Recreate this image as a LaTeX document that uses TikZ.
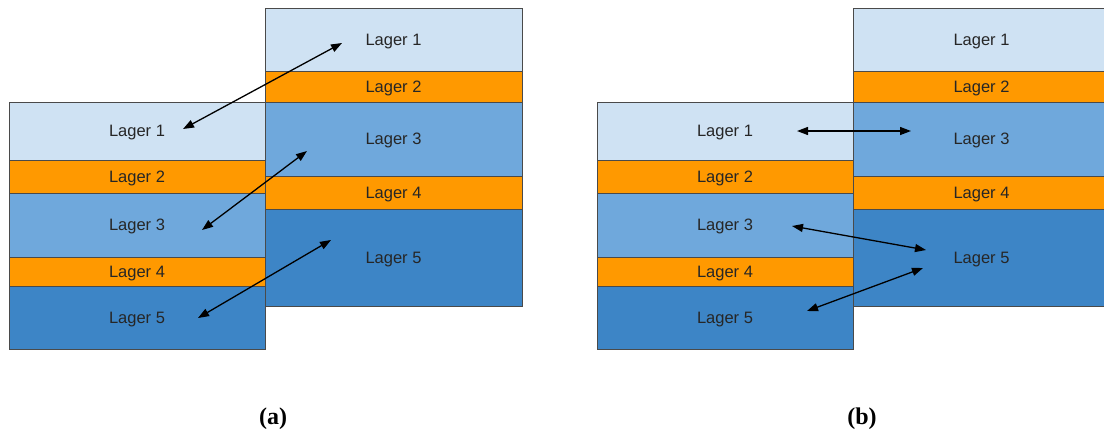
\documentclass[tikz,border=0pt]{standalone}
\usepackage{fontspec}
\setmainfont{Liberation Sans}
\newfontfamily\capfont{Liberation Serif}
\usetikzlibrary{arrows.meta}
\definecolor{cA}{HTML}{CFE2F3}
\definecolor{cB}{HTML}{FF9900}
\definecolor{cC}{HTML}{6FA8DC}
\definecolor{cD}{HTML}{3D85C6}
\definecolor{edge}{HTML}{4A4A4A}
\tikzset{
  layer/.style={draw=edge, line width=0.8pt, inner sep=0pt, outer sep=0pt,
    text depth=0pt, font=\fontsize{16.5}{18}\selectfont, text=black!85},
  arr/.style={{Triangle[length=11pt,width=8pt]}-{Triangle[length=11pt,width=8pt]}, line width=1.3pt, black},
  captext/.style={font=\capfont\bfseries\fontsize{24}{26}\selectfont}
}
\begin{document}
\begin{tikzpicture}[x=1pt,y=-1pt]
\useasboundingbox (0,0) rectangle (1104,432);
% ---------- (a) left stack
\node[layer, fill=cA, minimum width=256pt, minimum height=58pt] (aL1) at (137,131) {Lager 1};
\node[layer, fill=cB, minimum width=256pt, minimum height=33pt] (aL2) at (137,176.5) {Lager 2};
\node[layer, fill=cC, minimum width=256pt, minimum height=64pt] (aL3) at (137,225) {Lager 3};
\node[layer, fill=cB, minimum width=256pt, minimum height=29pt] (aL4) at (137,271.5) {Lager 4};
\node[layer, fill=cD, minimum width=256pt, minimum height=63pt] (aL5) at (137,317.5) {Lager 5};
% ---------- (a) right stack
\node[layer, fill=cA, minimum width=257pt, minimum height=63pt] (aR1) at (393.5,39.5) {Lager 1};
\node[layer, fill=cB, minimum width=257pt, minimum height=31pt] (aR2) at (393.5,86.5) {Lager 2};
\node[layer, fill=cC, minimum width=257pt, minimum height=74pt] (aR3) at (393.5,139) {Lager 3};
\node[layer, fill=cB, minimum width=257pt, minimum height=33pt] (aR4) at (393.5,192.5) {Lager 4};
\node[layer, fill=cD, minimum width=257pt, minimum height=97pt] (aR5) at (393.5,257.5) {Lager 5};
% ---------- (b) left stack
\node[layer, fill=cA, minimum width=256pt, minimum height=58pt] (bL1) at (725,131) {Lager 1};
\node[layer, fill=cB, minimum width=256pt, minimum height=33pt] (bL2) at (725,176.5) {Lager 2};
\node[layer, fill=cC, minimum width=256pt, minimum height=64pt] (bL3) at (725,225) {Lager 3};
\node[layer, fill=cB, minimum width=256pt, minimum height=29pt] (bL4) at (725,271.5) {Lager 4};
\node[layer, fill=cD, minimum width=256pt, minimum height=63pt] (bL5) at (725,317.5) {Lager 5};
% ---------- (b) right stack
\node[layer, fill=cA, minimum width=257pt, minimum height=63pt] (bR1) at (981.5,39.5) {Lager 1};
\node[layer, fill=cB, minimum width=257pt, minimum height=31pt] (bR2) at (981.5,86.5) {Lager 2};
\node[layer, fill=cC, minimum width=257pt, minimum height=74pt] (bR3) at (981.5,139) {Lager 3};
\node[layer, fill=cB, minimum width=257pt, minimum height=33pt] (bR4) at (981.5,192.5) {Lager 4};
\node[layer, fill=cD, minimum width=257pt, minimum height=97pt] (bR5) at (981.5,257.5) {Lager 5};
% ---------- arrow end points
\coordinate (a1s) at (183,129);
\coordinate (a1e) at (342,43);
\coordinate (a2s) at (202,230);
\coordinate (a2e) at (307,151);
\coordinate (a3s) at (198,318);
\coordinate (a3e) at (331,240);
\coordinate (b1s) at (797,131);
\coordinate (b1e) at (911,131);
\coordinate (b2s) at (792,226);
\coordinate (b2e) at (926,250);
\coordinate (b3s) at (807,311);
\coordinate (b3e) at (923,268);
\draw[arr] (a1s) -- (a1e);
\draw[arr] (a2s) -- (a2e);
\draw[arr] (a3s) -- (a3e);
\draw[arr] (b1s) -- (b1e);
\draw[arr] (b2s) -- (b2e);
\draw[arr] (b3s) -- (b3e);
% ---------- captions
\node[captext] (capa) at (273,419) {(a)};
\node[captext] (capb) at (862,419) {(b)};
\end{tikzpicture}
\end{document}
